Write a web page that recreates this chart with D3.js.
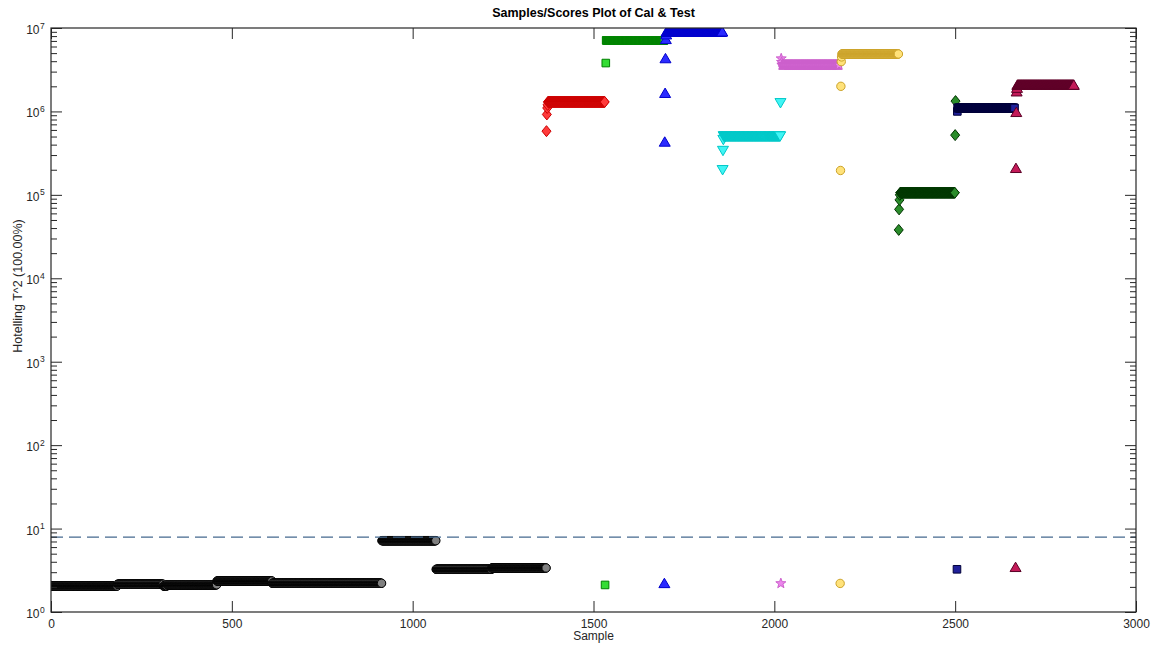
<!DOCTYPE html>
<html>
<head>
<meta charset="utf-8">
<script src="https://cdn.jsdelivr.net/npm/d3@7"></script>
<style>
  body { margin: 0; background: #fff; }
  text { font-family: "Liberation Sans", Arial, Helvetica, sans-serif; fill: #262626; }
</style>
</head>
<body>
<div id="chart"></div>
<script>
// ---- values ----
var xTicks = [0, 500, 1000, 1500, 2000, 2500, 3000];
var yDecades = [0, 1, 2, 3, 4, 5, 6, 7];
var limitT2 = 7.9;   // dashed confidence limit

// runs of consecutive samples sitting at one level: [first sample, last sample, T^2]
// single samples: [sample, T^2]
var calRuns = [[0, 183, 2.05], [184, 310, 2.15], [311, 320, 2.05], [321, 458, 2.12],
               [459, 611, 2.35], [612, 914, 2.21], [915, 1064, 7.16], [1065, 1218, 3.25],
               [1219, 1369, 3.37]];

var redPoints = [[1370, 5.8e5], [1371, 9.2e5], [1372, 1.1e6], [1373, 1.2e6]];
var redRuns = [[1374, 1531, 1.3e6]];

var greenPoints = [[1532, 2.11], [1534, 3.8e6]];
var greenRuns = [[1535, 1695, 7.1e6]];

var bluePoints = [[1696, 2.2], [1697, 4.3e5], [1698, 1.65e6], [1699, 4.3e6], [1700, 7.3e6], [1701, 8.3e6]];
var blueRuns = [[1702, 1856, 9.0e6]];

var cyanPoints = [[1857, 2.0e5], [1858, 3.4e5], [1859, 4.6e5], [2017, 1.27e6]];
var cyanRuns = [[1860, 2016, 5.07e5]];

var pinkPoints = [[2018, 2.2], [2019, 4.3e6], [2020, 3.9e6]];
var pinkRuns = [[2021, 2179, 3.6e6]];

var goldPoints = [[2182, 2.2], [2183, 1.96e5], [2184, 2.0e6], [2185, 3.95e6], [2186, 4.5e6]];
var goldRuns = [[2187, 2343, 4.88e6]];

var dkgreenPoints = [[2344, 3.8e4], [2345, 6.7e4], [2346, 8.7e4], [2347, 1.0e5], [2500, 5.2e5], [2501, 1.33e6]];
var dkgreenRuns = [[2348, 2499, 1.06e5]];

var navyPoints = [[2505, 3.25], [2506, 1.0e6]];
var navyRuns = [[2507, 2664, 1.1e6]];

var maroonPoints = [[2667, 3.43], [2668, 2.08e5], [2669, 9.75e5], [2670, 1.72e6], [2671, 1.9e6]];
var maroonRuns = [[2672, 2828, 2.07e6]];

// ---- layout ----
var W = 1157, H = 646;
var padL = 51, padR = 1136, padT = 28, padB = 612;
var axisColor = "#262626";

function expand(points, runs) {
    var out = points.slice();
    runs.forEach(function (r) {
        for (var s = r[0]; s <= r[1]; s++) out.push([s, r[2]]);
    });
    return out.sort(function (a, b) { return a[0] - b[0]; });
}

var classes = [
    { pts: expand([], calRuns),                  shape: "circle",  fill: "#808080", stroke: "#000000" },
    { pts: expand(redPoints, redRuns),           shape: "diamond", fill: "#ff3b3b", stroke: "#cc0000" },
    { pts: expand(greenPoints, greenRuns),       shape: "square",  fill: "#33dd33", stroke: "#008000" },
    { pts: expand(bluePoints, blueRuns),         shape: "triUp",   fill: "#2b2bff", stroke: "#0000cc" },
    { pts: expand(cyanPoints, cyanRuns),         shape: "triDown", fill: "#40f5f5", stroke: "#00c8c8" },
    { pts: expand(pinkPoints, pinkRuns),         shape: "star",    fill: "#ec86ec", stroke: "#cc5fcc" },
    { pts: expand(goldPoints, goldRuns),         shape: "circle",  fill: "#ffe27a", stroke: "#cca32a" },
    { pts: expand(dkgreenPoints, dkgreenRuns),   shape: "diamond", fill: "#2a8c2a", stroke: "#003300" },
    { pts: expand(navyPoints, navyRuns),         shape: "square",  fill: "#20209a", stroke: "#00003a" },
    { pts: expand(maroonPoints, maroonRuns),     shape: "triUp",   fill: "#c41a58", stroke: "#5a0026" }
];

function markerPath(shape) {
    if (shape === "circle") {
        var p = d3.path(); p.arc(0, 0, 4.2, 0, 2 * Math.PI); p.closePath(); return p.toString();
    }
    if (shape === "square") return "M-3.8,-3.8H3.8V3.8H-3.8Z";
    if (shape === "diamond") return "M0,-5.5L4.5,0L0,5.5L-4.5,0Z";
    if (shape === "triUp") return "M0,-5.2L5.5,4.2L-5.5,4.2Z";
    if (shape === "triDown") return "M0,5.2L5.5,-4.2L-5.5,-4.2Z";
    // five point star
    var s = "";
    for (var i = 0; i < 10; i++) {
        var r = i % 2 === 0 ? 5.3 : 2.2;
        var a = -Math.PI / 2 + i * Math.PI / 5;
        s += (i === 0 ? "M" : "L") + (r * Math.cos(a)).toFixed(2) + "," + (r * Math.sin(a)).toFixed(2);
    }
    return s + "Z";
}

var x = d3.scaleLinear().domain([0, 3000]).range([padL, padR]);
var y = d3.scaleLog().domain([1, 1e7]).range([padB, padT]);

var svg = d3.select("#chart").append("svg")
    .attr("width", W).attr("height", H);

svg.append("defs").append("clipPath").attr("id", "plotClip")
    .append("rect").attr("x", padL).attr("y", padT)
    .attr("width", padR - padL).attr("height", padB - padT);

// ---- markers ----
var plot = svg.append("g").attr("clip-path", "url(#plotClip)");

classes.forEach(function (c) {
    var d = markerPath(c.shape);
    plot.append("g").selectAll("path")
        .data(c.pts).enter()
        .append("path")
        .attr("d", d)
        .attr("transform", function (p) { return "translate(" + x(p[0]) + "," + y(p[1]) + ")"; })
        .style("fill", c.fill)
        .style("stroke", c.stroke)
        .style("stroke-width", 1);
});

// dashed limit line
plot.append("line")
    .attr("x1", padL).attr("x2", padR)
    .attr("y1", y(limitT2)).attr("y2", y(limitT2))
    .style("stroke", "#45698f")
    .style("stroke-width", 1.4)
    .style("stroke-dasharray", "12,6");

// ---- axes ----
var minorTicks = [];
yDecades.slice(0, -1).forEach(function (k) {
    for (var m = 2; m <= 9; m++) minorTicks.push(m * Math.pow(10, k));
});
var majorTicks = yDecades.map(function (k) { return Math.pow(10, k); });

function styleAxis(g) {
    g.select(".domain").remove();
    g.selectAll(".tick line").style("stroke", axisColor);
    g.selectAll(".tick text").style("font-size", "12px").style("fill", axisColor);
}

svg.append("g").attr("transform", "translate(0," + padB + ")")
    .call(d3.axisBottom(x).tickValues(xTicks).tickSize(-11).tickPadding(7.5).tickFormat(d3.format("d")))
    .call(styleAxis);
svg.append("g").attr("transform", "translate(0," + padT + ")")
    .call(d3.axisTop(x).tickValues(xTicks).tickSize(-11).tickFormat(""))
    .call(styleAxis);

[[d3.axisLeft, padL], [d3.axisRight, padR]].forEach(function (a) {
    svg.append("g").attr("transform", "translate(" + a[1] + ",0)")
        .call(a[0](y).tickValues(majorTicks).tickSize(-11).tickFormat(""))
        .call(styleAxis);
    svg.append("g").attr("transform", "translate(" + a[1] + ",0)")
        .call(a[0](y).tickValues(minorTicks).tickSize(-6).tickFormat(""))
        .call(styleAxis);
});

// y tick labels as 10 with exponent
svg.append("g").selectAll("text")
    .data(majorTicks).enter()
    .append("text")
    .attr("x", 39.5)
    .attr("y", function (d) { return y(d) + 6; })
    .attr("text-anchor", "end")
    .style("font-size", "12px")
    .text("10");
svg.append("g").selectAll("text")
    .data(yDecades).enter()
    .append("text")
    .attr("x", 40)
    .attr("y", function (d) { return y(Math.pow(10, d)) + 0.5; })
    .style("font-size", "8.5px")
    .text(function (d) { return d; });

// frame
svg.append("rect")
    .attr("x", padL).attr("y", padT)
    .attr("width", padR - padL).attr("height", padB - padT)
    .style("fill", "none").style("stroke", axisColor).style("stroke-width", 1.2);

// ---- titles ----
svg.append("text")
    .attr("x", (padL + padR) / 2).attr("y", 17)
    .attr("text-anchor", "middle")
    .style("font-size", "12.5px").style("font-weight", "bold")
    .style("fill", "#000")
    .text("Samples/Scores Plot of Cal & Test");

svg.append("text")
    .attr("x", (padL + padR) / 2).attr("y", 640)
    .attr("text-anchor", "middle")
    .style("font-size", "12px")
    .text("Sample");

svg.append("text")
    .attr("transform", "translate(21.5,286) rotate(-90)")
    .attr("text-anchor", "middle")
    .style("font-size", "12.5px")
    .text("Hotelling T^2 (100.00%)");
</script>
</body>
</html>
